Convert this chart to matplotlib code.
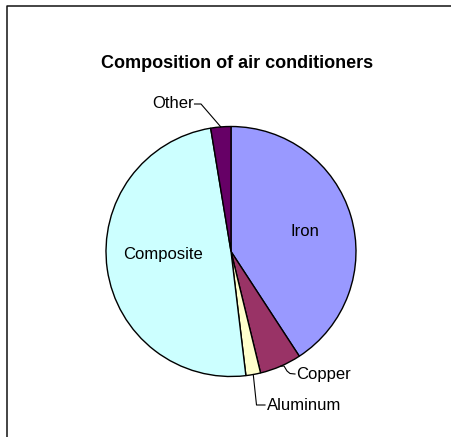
import numpy as np
import matplotlib
matplotlib.use("Agg")
import matplotlib.pyplot as plt
from matplotlib.lines import Line2D

# ---- data ----
title = "Composition of air conditioners"
categories = ["Iron", "Copper", "Aluminum", "Composite", "Other"]
values = [40.8, 5.4, 1.9, 49.3, 2.6]
colors = ["#9999FF", "#993366", "#FFFFCC", "#CCFFFF", "#660066"]

W, H = 451, 437
plt.rcParams['font.family'] = ['Liberation Sans', 'DejaVu Sans']
fig = plt.figure(figsize=(W / 100, H / 100), dpi=100)
ax = fig.add_axes([0, 0, 1, 1])

def Y(py):
    return H - py

cx, cy, r = 231, 251.5, 125
wedges, _ = ax.pie(values, colors=colors, startangle=90, counterclock=False,
                   center=(cx, Y(cy)), radius=r,
                   wedgeprops=dict(edgecolor="black", linewidth=1.0))
ax.set_xlim(0, W)
ax.set_ylim(0, H)
ax.set_aspect('equal')
ax.set_axis_off()

# mid-angle edge points (from the data)
total = sum(values)
def edge_point(i):
    start = 90 - 360 * sum(values[:i]) / total
    mid = start - 360 * values[i] / total / 2
    t = np.deg2rad(mid)
    return cx + r * np.cos(t), cy - r * np.sin(t)

fs = 12
# inside labels
ax.text(305, Y(231), "Iron", fontsize=fs, ha="center", va="center")
ax.text(163, Y(254), "Composite", fontsize=fs, ha="center", va="center")

lc = dict(color="black", linewidth=0.8)
# Other
ex, ey = edge_point(4)
ax.add_line(Line2D([194.5, 201, ex], [Y(104), Y(104), Y(ey)], **lc))
ax.text(194, Y(104), "Other", fontsize=fs, ha="right", va="center")
# Copper
ex, ey = edge_point(1)
ax.add_line(Line2D([ex, 284, 287, 290, 295], [Y(ey), Y(366), Y(371), Y(373.5), Y(374)], **lc))
ax.text(296, Y(374), "Copper", fontsize=fs, ha="left", va="center")
# Aluminum
ex, ey = edge_point(2)
ax.add_line(Line2D([ex, 256.5, 265], [Y(ey), Y(405), Y(405)], **lc))
ax.text(266.5, Y(405), "Aluminum", fontsize=fs, ha="left", va="center")

# title
ax.text(237, Y(63), title, fontsize=13, fontweight="bold", ha="center", va="center")

# frame (left and top edges)
ax.add_line(Line2D([6.5, 6.5, W + 2], [-2, Y(6), Y(6)], color="#111111", linewidth=1.1))

fig.savefig("out.png", dpi=100)
